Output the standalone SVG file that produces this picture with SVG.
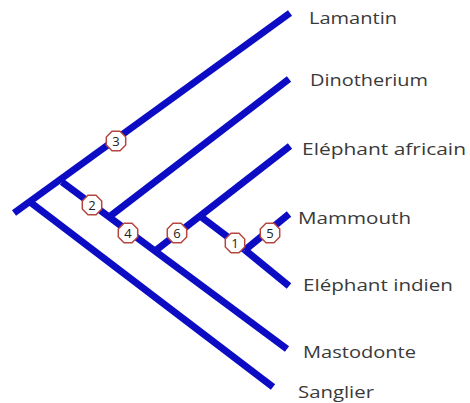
<svg xmlns="http://www.w3.org/2000/svg" width="470" height="403" viewBox="0 0 470 403">
<style>
.br{stroke:#0c0cc4;stroke-width:7;fill:none;stroke-linecap:butt}
.oct{fill:#fff;stroke:#b5473f;stroke-width:1.5}
.num{font-family:"Open Sans","Liberation Sans",sans-serif;font-size:13px;fill:#222;text-anchor:middle}
.lab{font-family:"Open Sans","Liberation Sans",sans-serif;font-size:16px;fill:#3a3a3a}
</style>
<defs>
<polygon id="o" points="-4,-9.7 4,-9.7 9.7,-4 9.7,4 4,9.7 -4,9.7 -9.7,4 -9.7,-4"/>
</defs>
<rect width="470" height="403" fill="#fff"/>
<g id="connectors">
<path class="br" d="M14,213 L290,13"/>
<path class="br" d="M30,202 L273,387"/>
<path class="br" d="M62,182 L287,349"/>
<path class="br" d="M109,217 L289,79"/>
<path class="br" d="M155,251 L290,146"/>
<path class="br" d="M200,216 L245,250"/>
<path class="br" d="M245,250 L289,214"/>
<path class="br" d="M245,250 L289,286"/>
</g>
<g id="m3"><use href="#o" class="oct" x="116" y="141"/><text class="num" x="116" y="145.5">3</text></g>
<g id="m2"><use href="#o" class="oct" x="92" y="205"/><text class="num" x="92" y="209.5">2</text></g>
<g id="m4"><use href="#o" class="oct" x="128" y="233"/><text class="num" x="128" y="237.5">4</text></g>
<g id="m6"><use href="#o" class="oct" x="177" y="233"/><text class="num" x="177" y="237.5">6</text></g>
<g id="m1"><use href="#o" class="oct" x="235" y="243"/><text class="num" x="235" y="247.5">1</text></g>
<g id="m5"><use href="#o" class="oct" x="270" y="233"/><text class="num" x="270" y="237.5">5</text></g>
<g id="lamantin"><text class="lab" x="309" y="24" textLength="88" lengthAdjust="spacingAndGlyphs">Lamantin</text></g>
<g id="dinotherium"><text class="lab" x="310" y="86" textLength="118" lengthAdjust="spacingAndGlyphs">Dinotherium</text></g>
<g id="africain"><text class="lab" x="302" y="155" textLength="164" lengthAdjust="spacingAndGlyphs">Eléphant africain</text></g>
<g id="mammouth"><text class="lab" x="298" y="224" textLength="113" lengthAdjust="spacingAndGlyphs">Mammouth</text></g>
<g id="indien"><text class="lab" x="303" y="291" textLength="150" lengthAdjust="spacingAndGlyphs">Eléphant indien</text></g>
<g id="mastodonte"><text class="lab" x="303" y="358" textLength="113" lengthAdjust="spacingAndGlyphs">Mastodonte</text></g>
<g id="sanglier"><text class="lab" x="298" y="398" textLength="76" lengthAdjust="spacingAndGlyphs">Sanglier</text></g>
</svg>
